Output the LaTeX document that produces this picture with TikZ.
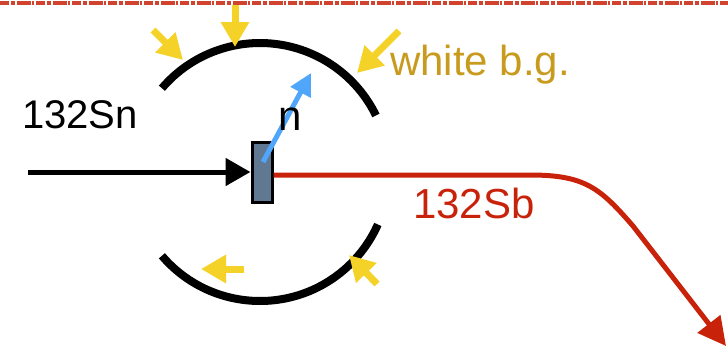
\documentclass[tikz,border=0pt]{standalone}
\usepackage{fontspec}
\setmainfont{Liberation Sans}
\usetikzlibrary{arrows.meta}
\definecolor{myyellow}{RGB}{245,210,40}
\definecolor{myred}{RGB}{200,35,10}
\definecolor{myblue}{RGB}{80,166,250}
\definecolor{mygold}{RGB}{200,155,30}
\definecolor{myslate}{RGB}{96,120,146}
\tikzset{
  yarrow/.style={myyellow,line width=7pt,-{Triangle[length=25pt,width=27pt]}},
  lbl/.style={anchor=base west,inner sep=0pt,font=\fontsize{42}{46}\selectfont},
}
\begin{document}
\begin{tikzpicture}[x=1pt,y=-1pt]
\useasboundingbox (0,0) rectangle (728,349);
% ragged red top line
\draw[myred!85,line width=4pt,dash pattern=on 9pt off 1.5pt on 4pt off 2pt on 14pt off 1.5pt on 2pt off 2pt] (0,2.5) -- (728,2.5);
% circle arcs
\draw[line width=8pt] (260,172) ++(139.5:129) arc[start angle=139.5,end angle=24,radius=129];
\draw[line width=8pt] (260,172) ++(220.5:129) arc[start angle=220.5,end angle=334,radius=129];
% target
\node[draw=black,line width=3pt,fill=myslate,minimum width=20pt,minimum height=60pt,inner sep=0pt] (tgt) at (262,172) {};
\coordinate (src) at (28,172);
\draw[line width=5pt,-{Triangle[length=25pt,width=27pt]}] (src) -- (tgt.west);
% neutron
\coordinate (ntip) at (311,73);
\draw[myblue,line width=5pt,-{Triangle[length=22pt,width=22pt]}] (263,162) -- (ntip);
% red outgoing
\coordinate (rend) at (726,346);
\draw[myred,line width=5pt,-{Triangle[length=28pt,width=28pt]}] (tgt.east |- 0,175) -- (530,175) .. controls (585,175) and (600,188) .. (633,226) -- (rend);
% yellow arrows
\coordinate (y1t) at (235,5);  \coordinate (y1h) at (235,47);
\coordinate (y2t) at (153,30); \coordinate (y2h) at (183,60);
\coordinate (y3t) at (399,31); \coordinate (y3h) at (357,73);
\coordinate (y4t) at (244,269);\coordinate (y4h) at (201,269);
\coordinate (y5t) at (377,284);\coordinate (y5h) at (349,255);
\draw[yarrow] (y1t) -- (y1h);
\draw[yarrow] (y2t) -- (y2h);
\draw[yarrow] (y3t) -- (y3h);
\draw[yarrow] (y4t) -- (y4h);
\draw[yarrow] (y5t) -- (y5h);
% labels
\node[lbl,font=\fontsize{40}{44}\selectfont] (sn) at (22,128) {132Sn};
\node[lbl,myred] (sb) at (413,218) {132Sb};
\node[lbl,mygold] (wbg) at (390,75) {white b.g.};
\node[lbl] (n) at (278,130) {n};
\end{tikzpicture}
\end{document}
